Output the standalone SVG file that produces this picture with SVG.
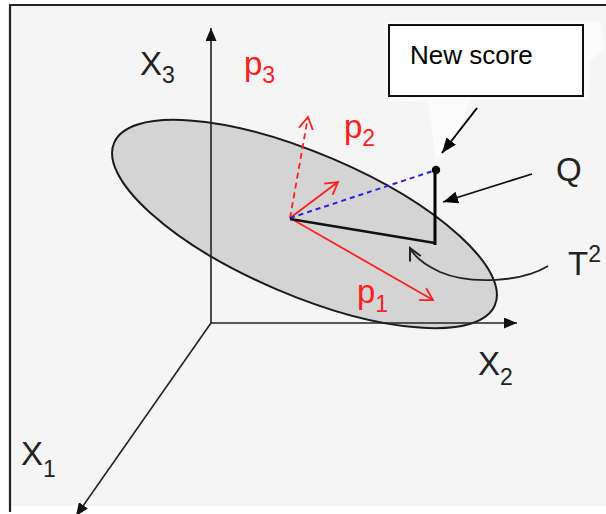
<svg xmlns="http://www.w3.org/2000/svg" width="606" height="514" viewBox="0 0 606 514">
  <style>
    .lbl { font-family: "Liberation Sans", Arial, sans-serif; font-size: 33px; fill: #222; }
    .red { fill: #ff2020; }
    .sub { font-size: 23px; }
    .box { font-family: "Liberation Sans", Arial, sans-serif; font-size: 26px; fill: #000; }
    .axis { stroke: #222; stroke-width: 1.6; fill: none; }
    .redv { stroke: #ff2020; stroke-width: 1.8; fill: none; }
  </style>
  <defs>
    <marker id="axHead" markerUnits="userSpaceOnUse" markerWidth="13" markerHeight="11" viewBox="0 0 13 11" refX="13" refY="5.5" orient="auto">
      <path d="M0,0 L13,5.5 L0,11 Z" fill="#111"/>
    </marker>
    <marker id="blkHead" markerUnits="userSpaceOnUse" markerWidth="15" markerHeight="12" viewBox="0 0 15 12" refX="15" refY="6" orient="auto">
      <path d="M0,0 L15,6 L0,12 Z" fill="#000"/>
    </marker>
    <marker id="redChev" markerUnits="userSpaceOnUse" markerWidth="16" markerHeight="16" viewBox="0 0 16 16" refX="14" refY="8" orient="auto">
      <path d="M2,1 L14,8 L2,15" fill="none" stroke="#ff2020" stroke-width="1.8"/>
    </marker>
    <marker id="blkChev" markerUnits="userSpaceOnUse" markerWidth="16" markerHeight="16" viewBox="0 0 16 16" refX="14" refY="8" orient="auto">
      <path d="M2,2 L14,8 L2,14" fill="none" stroke="#222" stroke-width="2"/>
    </marker>
  </defs>

  <!-- background and frame -->
  <rect x="10" y="5" width="596" height="501" fill="#f5f5f5"/>
  <path d="M386,22 L600,22 L605,48 L590,62 L588,100 L470,100 L452,150 L436,160 L428,102 L386,100 Z" fill="#fbfbfb"/>
  <line x1="10" y1="5" x2="10" y2="512" stroke="#222" stroke-width="2.2"/>
  <line x1="9" y1="5" x2="606" y2="5" stroke="#222" stroke-width="2.2"/>

  <!-- ellipse (plane of the model) -->
  <g id="plane">
    <ellipse cx="304.5" cy="224" rx="207" ry="71" transform="rotate(23.1 304.5 224)" fill="#d4d4d4" stroke="#1a1a1a" stroke-width="2"/>
  </g>

  <g id="connectors">
    <!-- axes -->
    <line class="axis" x1="211" y1="323" x2="211" y2="28" marker-end="url(#axHead)"/>
    <line class="axis" x1="211" y1="323" x2="517" y2="323" marker-end="url(#axHead)"/>
    <line class="axis" x1="211" y1="323" x2="76" y2="516" marker-end="url(#axHead)"/>

    <!-- loading vectors -->
    <line class="redv" x1="290" y1="218" x2="433" y2="300" marker-end="url(#redChev)"/>
    <line class="redv" x1="290" y1="218" x2="338" y2="182" marker-end="url(#redChev)"/>
    <line class="redv" x1="290" y1="218" x2="308" y2="117" stroke-dasharray="6,4" marker-end="url(#redChev)"/>

    <!-- projection -->
    <line x1="290" y1="218" x2="436" y2="170" stroke="#2424e0" stroke-width="2" stroke-dasharray="5,4"/>
    <line x1="290" y1="219" x2="435" y2="243" stroke="#111" stroke-width="2.6"/>
    <line x1="435" y1="170" x2="435" y2="245" stroke="#000" stroke-width="3"/>

    <!-- pointers -->
    <line x1="477" y1="108" x2="442" y2="153" stroke="#000" stroke-width="2" marker-end="url(#blkHead)"/>
    <line x1="532" y1="174" x2="443" y2="202" stroke="#111" stroke-width="1.8" marker-end="url(#blkHead)"/>
    <path d="M548,266 C522,282 470,285 440,272 C425,265 415,258 410,248" fill="none" stroke="#222" stroke-width="1.8" marker-end="url(#blkChev)"/>
  </g>

  <g id="score-point">
    <circle cx="436" cy="170" r="4.2" fill="#000"/>
  </g>

  <g id="new-score">
    <rect x="389" y="25" width="194" height="71" fill="#fff" stroke="#111" stroke-width="2"/>
    <text class="box" x="410" y="64">New score</text>
  </g>

  <g id="label-x3"><text class="lbl" x="140" y="75">X<tspan class="sub" dy="8">3</tspan></text></g>
  <g id="label-x2"><text class="lbl" x="478" y="375">X<tspan class="sub" dy="10">2</tspan></text></g>
  <g id="label-x1"><text class="lbl" x="21" y="465">X<tspan class="sub" dy="12">1</tspan></text></g>
  <g id="label-p3"><text class="lbl red" x="244" y="75">p<tspan class="sub" dy="8">3</tspan></text></g>
  <g id="label-p2"><text class="lbl red" x="344" y="138">p<tspan class="sub" dy="8">2</tspan></text></g>
  <g id="label-p1"><text class="lbl red" x="357" y="303">p<tspan class="sub" dy="9">1</tspan></text></g>
  <g id="label-q"><text class="lbl" x="556" y="181">Q</text></g>
  <g id="label-t2"><text class="lbl" x="568" y="275">T<tspan class="sub" dy="-13">2</tspan></text></g>
</svg>
